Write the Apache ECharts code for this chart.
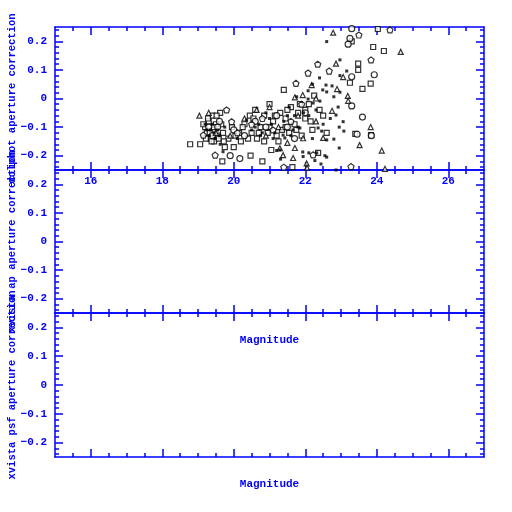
<!DOCTYPE html>
<html><head><meta charset="utf-8">
<script src="https://cdn.jsdelivr.net/npm/echarts@6/dist/echarts.min.js"></script>
<style>html,body{margin:0;padding:0;background:#fff}#c{width:512px;height:512px}</style>
</head><body><div id="c"></div>
<script>
// ---- data (magnitude, correction) ----
const squares = [[18.78,-0.16],[19.06,-0.16],[19.2,-0.10],[19.25,-0.12],[19.3,-0.08],[19.35,-0.14],[19.4,-0.06],[19.42,-0.11],[19.45,-0.15],[19.5,-0.09],[19.55,-0.13],[19.62,-0.05],[19.68,-0.22],[19.7,-0.12],[19.75,-0.17],[19.85,-0.14],[19.95,-0.10],[20.05,-0.13],[20.2,-0.15],[20.3,-0.09],[20.45,-0.06],[20.47,-0.20],[20.5,-0.12],[20.6,-0.04],[20.65,-0.14],[20.75,-0.10],[20.8,-0.22],[20.85,-0.06],[20.95,-0.12],[21.0,-0.02],[21.05,-0.18],[21.1,-0.08],[21.2,-0.13],[21.3,-0.05],[21.35,-0.11],[21.4,0.03],[21.45,-0.07],[21.55,-0.12],[21.6,-0.03],[21.64,-0.24],[21.7,-0.09],[21.8,-0.05],[21.9,-0.13],[22.0,-0.07],[22.1,-0.02],[22.2,-0.11],[22.36,-0.19],[22.4,-0.04],[22.6,-0.12],[23.25,0.055],[23.3,0.20],[23.4,-0.124],[23.48,0.122],[23.48,0.10],[23.6,0.034],[23.83,0.052],[23.84,-0.128],[23.9,0.18],[24.03,0.243],[24.2,0.166],
[19.15,-0.09],[19.22,-0.14],[19.28,-0.07],[19.33,-0.12],[19.38,-0.15],[19.44,-0.10],[19.52,-0.06],[19.58,-0.14],[19.65,-0.09],[19.72,-0.15],[20.0,-0.17],[20.15,-0.12],[20.25,-0.10],[20.4,-0.14],[20.55,-0.07],[20.7,-0.12],[20.85,-0.15],[21.0,-0.10],[21.15,-0.06],[21.25,-0.15],[21.45,-0.10],[21.5,-0.04],[21.75,-0.11],[21.85,-0.02],[22.0,-0.04],[22.15,-0.08],[22.25,0.01],[22.5,-0.06]];
const circles = [[19.3,-0.10],[19.4,-0.13],[19.55,-0.10],[19.6,-0.08],[19.9,-0.20],[20.0,-0.11],[20.17,-0.21],[20.3,-0.13],[20.6,-0.08],[20.9,-0.10],[21.2,-0.06],[21.5,-0.10],[21.7,-0.14],[22.0,-0.05],[23.2,0.19],[23.25,0.21],[23.3,0.244],[23.3,0.076],[23.3,-0.026],[23.45,-0.125],[23.6,-0.065],[23.93,0.083],[23.85,-0.13]];
const triangles = [[19.04,-0.06],[19.3,-0.05],[19.5,-0.12],[19.9,-0.13],[20.3,-0.07],[20.64,-0.04],[20.9,-0.13],[21.0,-0.03],[21.25,-0.10],[21.29,-0.174],[21.38,-0.198],[21.5,-0.155],[21.66,-0.208],[21.71,0.004],[21.71,-0.173],[21.8,-0.06],[21.93,0.012],[21.94,-0.139],[22.04,-0.227],[22.05,-0.242],[22.18,0.047],[22.3,-0.08],[22.5,-0.138],[22.75,-0.043],[22.78,0.23],[22.86,0.122],[22.89,0.033],[23.06,0.075],[23.19,0.009],[23.2,-0.008],[23.52,-0.163],[23.83,-0.10],[24.14,-0.182],[24.23,-0.246],[24.67,0.163],[22.3,0.0]];
const pentagons = [[19.15,-0.128],[19.48,-0.198],[19.8,-0.04],[19.94,-0.081],[20.1,-0.12],[20.5,-0.09],[20.8,-0.07],[21.1,-0.11],[21.4,-0.24],[21.6,-0.08],[21.74,0.053],[22.08,0.089],[22.22,-0.197],[22.35,0.12],[22.67,0.096],[23.28,-0.238],[23.5,0.222],[23.84,0.135],[24.37,0.24],[21.9,-0.02]];
const dots = [[19.2,-0.09],[19.35,-0.11],[19.45,-0.12],[19.6,-0.13],[19.7,-0.186],[19.75,-0.10],[20.1,-0.14],[20.36,-0.075],[20.5,-0.11],[20.7,-0.09],[20.8,-0.12],[21.0,-0.07],[21.1,-0.14],[21.29,-0.18],[21.31,-0.212],[21.2,-0.182],[21.38,-0.128],[21.43,-0.138],[21.5,-0.06],[21.66,-0.11],[21.76,0.006],[21.85,-0.103],[21.95,-0.05],[22.08,-0.002],[22.08,0.027],[22.1,-0.19],[22.22,-0.016],[22.27,-0.217],[22.32,-0.19],[22.36,-0.103],[22.4,0.072],[22.41,-0.009],[22.44,-0.229],[22.46,-0.114],[22.49,0.03],[22.55,-0.2],[22.58,0.047],[22.6,0.023],[22.6,-0.145],[22.6,0.199],[22.6,-0.205],[22.75,0.044],[22.8,0.006],[22.8,-0.142],[22.86,-0.058],[22.86,-0.25],[22.92,-0.03],[22.95,-0.1],[22.95,-0.173],[22.97,0.135],[22.97,0.08],[22.97,0.022],[23.06,-0.081],[23.08,-0.114],[23.16,0.096],[21.94,-0.203],[21.93,-0.187],[22.2,0.05],[21.55,-0.03],[20.9,-0.05],
[19.25,-0.11],[19.32,-0.13],[19.4,-0.09],[19.48,-0.14],[19.55,-0.11],[19.62,-0.16],[20.6,-0.10],[20.75,-0.13],[21.05,-0.09],[21.15,-0.12],[21.4,-0.08],[21.6,-0.13],[21.7,-0.06],[21.8,-0.10],[22.1,-0.06],[22.2,-0.14],[22.3,-0.04],[22.5,-0.09],[22.7,-0.07]];

// ---- axis ticks / labels ----
const xMajor = [16,18,20,22,24,26];
const xMinor = [15.5,16,16.5,17,17.5,18,18.5,19,19.5,20,20.5,21,21.5,22,22.5,23,23.5,24,24.5,25,25.5,26,26.5];
const yMajor = [-0.2,-0.1,0,0.1,0.2];
const yMinor = [-0.24,-0.22,-0.2,-0.18,-0.16,-0.14,-0.12,-0.1,-0.08,-0.06,-0.04,-0.02,0,0.02,0.04,0.06,0.08,0.1,0.12,0.14,0.16,0.18,0.2,0.22,0.24];
const yTitles = ['dolphot aperture correction','xvista ap aperture correction','xvista psf aperture correction'];
const xTitles = ['', 'Magnitude', 'Magnitude'];

const BLUE = '#0000ff';
const FONT = 'Liberation Mono';
const gridTops = [27,170,313];
const gridHeights = [143,143,144];

const grids = [], xAxes = [], yAxes = [];
gridTops.forEach((t,i)=>{
  grids.push({left:55, top:t, width:429, height:gridHeights[i], containLabel:false, outerBoundsMode:'none'});
  ['bottom','top'].forEach(pos=>{
    xAxes.push({gridIndex:i, type:'value', position:pos, min:15, max:27,
      axisLine:{show:true, onZero:false, lineStyle:{color:BLUE, width:1.5}},
      axisTick:{show:true, inside:true, length:4, customValues:xMinor, lineStyle:{color:BLUE, width:1.5}},
      axisLabel:{show:false}, splitLine:{show:false}});
    const major = {gridIndex:i, type:'value', position:pos, min:15, max:27,
      axisLine:{show:false, onZero:false},
      axisTick:{show:true, inside:true, length:8, customValues:xMajor, lineStyle:{color:BLUE, width:1.5}},
      axisLabel:{show:false}, splitLine:{show:false}};
    if (pos==='bottom') {
      if (i===0) major.axisLabel = {show:true, customValues:xMajor, color:BLUE, fontFamily:FONT, fontWeight:'bold', fontSize:11, margin:6};
      if (xTitles[i]) { major.name = xTitles[i]; major.nameLocation='middle'; major.nameGap=22; major.nameMoveOverlap=false;
        major.nameTextStyle={color:BLUE, fontFamily:FONT, fontWeight:'bold', fontSize:11}; }
    }
    xAxes.push(major);
  });
  ['left','right'].forEach(pos=>{
    yAxes.push({gridIndex:i, type:'value', position:pos, min:-0.25, max:0.25,
      axisLine:{show:true, onZero:false, lineStyle:{color:BLUE, width:1.5}},
      axisTick:{show:true, inside:true, length:4, customValues:yMinor, lineStyle:{color:BLUE, width:1.5}},
      axisLabel:{show:false}, splitLine:{show:false}});
    const major = {gridIndex:i, type:'value', position:pos, min:-0.25, max:0.25,
      axisLine:{show:false, onZero:false},
      axisTick:{show:true, inside:true, length:8, customValues:yMajor, lineStyle:{color:BLUE, width:1.5}},
      axisLabel:{show:false}, splitLine:{show:false}};
    if (pos==='left') {
      major.axisLabel = {show:true, customValues:yMajor, color:BLUE, fontFamily:FONT, fontWeight:'bold', fontSize:11, margin:8,
        formatter:v=> Math.abs(v)<1e-9 ? '0' : (v<0?'\u2212':'') + String(Math.round(Math.abs(v)*10)/10)};
      major.name = yTitles[i]; major.nameLocation='middle'; major.nameGap=37; major.nameRotate=90; major.nameMoveOverlap=false;
      major.nameTextStyle = {color:BLUE, fontFamily:FONT, fontWeight:'bold', fontSize:10.5};
    }
    yAxes.push(major);
  });
});

const itemEmpty = {color:'#fff', borderColor:'#000', borderWidth:1.2};
const mk = (data, symbol, size, style) => ({type:'scatter', xAxisIndex:0, yAxisIndex:0, data, symbol, symbolSize:size, itemStyle:style, silent:true});
const series = [
  mk(squares,'rect',5,itemEmpty),
  mk(circles,'circle',6,itemEmpty),
  mk(triangles,'triangle',5,itemEmpty),
  mk(pentagons,'path://M0,-1 L0.951,-0.309 L0.588,0.809 L-0.588,0.809 L-0.951,-0.309Z',6,itemEmpty),
  mk(dots,'rect',3,{color:'#000'})
];

const chart = echarts.init(document.getElementById('c'), null, {renderer:'canvas'});
chart.setOption({animation:false, backgroundColor:'#fff', grid:grids, xAxis:xAxes, yAxis:yAxes, series});
</script></body></html>
